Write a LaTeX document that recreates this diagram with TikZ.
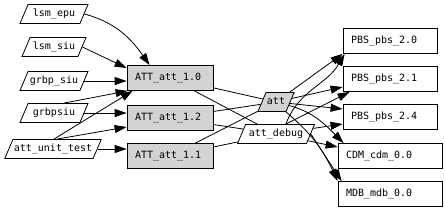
\documentclass[tikz,border=0pt]{standalone}
\usepackage{fontspec}
\setmonofont{DejaVu Sans Mono}
\usetikzlibrary{arrows.meta, shapes.geometric}
\definecolor{attgray}{HTML}{D3D3D3}

\begin{document}
\begin{tikzpicture}[
  x=1pt, y=-1pt,
  every node/.style={font=\ttfamily\fontsize{10}{11}\selectfont, line width=0.8pt, text height=7pt, text depth=2pt},
  src/.style={
    draw, fill=white, trapezium, trapezium left angle=67, trapezium right angle=113,
    trapezium stretches body=true, inner xsep=1pt, inner ysep=5pt
  },
  hub/.style={src, fill=attgray},
  attbox/.style={draw, fill=attgray, inner xsep=8pt, inner ysep=0pt, text width=70pt, align=left, minimum height=25pt},
  pkg/.style={draw, fill=white, inner xsep=8pt, inner ysep=0pt, text width=78pt, align=left, minimum height=25pt},
  link/.style={line width=0.8pt},
  arrow/.style={link, -{Triangle[length=12pt, width=8pt]}}
]
  \useasboundingbox (0,0) rectangle (445,212);

  \node[src, minimum width=68pt] (lsmepu) at (54,14) {lsm\_epu};
  \node[src, minimum width=64pt] (lsmsiu) at (54,47) {lsm\_siu};
  \node[src, minimum width=68pt] (grbpsiuA) at (54,81) {grbp\_siu};
  \node[src, minimum width=68pt] (grbpsiuB) at (54,113) {grbpsiu};
  \node[src, minimum width=93pt] (unittest) at (53,149) {att\_unit\_test};

  \node[attbox] (att10) at (170,78) {ATT\_att\_1.0};
  \node[attbox] (att12) at (170,118) {ATT\_att\_1.2};
  \node[attbox] (att11) at (170,156) {ATT\_att\_1.1};

  \node[hub, minimum width=31pt] (att) at (276,102) {att};
  \node[src, minimum width=77pt] (attdebug) at (276,134) {att\_debug};

  \node[pkg] (pbs20) at (390,41) {PBS\_pbs\_2.0};
  \node[pkg] (pbs21) at (390,79) {PBS\_pbs\_2.1};
  \node[pkg] (pbs24) at (390,117) {PBS\_pbs\_2.4};
  \node[pkg, text width=88pt] (cdm) at (390,156) {CDM\_cdm\_0.0};
  \node[pkg, text width=88pt] (mdb) at (390,194) {MDB\_mdb\_0.0};

  \draw[arrow] (lsmepu.east) to[out=-15, in=125] ([xshift=23pt]att10.north west);
  \draw[arrow] (lsmsiu.east) -- ([yshift=10pt]att10.west);
  \draw[arrow] (grbpsiuA.east) -- (grbpsiuA.east -| att10.west);
  \draw[arrow] (grbpsiuB.north east) -- ([xshift=1pt]att10.south west);
  \draw[arrow] ([xshift=-9pt]unittest.north east) -- ([xshift=6pt]att10.south west);
  \draw[arrow] (grbpsiuB.east) -- (grbpsiuB.east -| att12.west);
  \draw[arrow] ([xshift=-6pt]unittest.north east) -- ([yshift=-9pt]att12.west);
  \draw[arrow] (unittest.east) -- (unittest.east -| att11.west);

  \draw[link] (att10) -- (att);
  \draw[link] (att10) -- (attdebug);
  \draw[link] (att12) -- (att);
  \draw[link] (att12) -- (attdebug);
  \draw[link] (att11) -- (att);
  \draw[link] (att11) -- (attdebug);

  \draw[arrow] (att) -- (pbs20.south west);
  \draw[arrow] (att) -- ([yshift=-8pt]pbs21.west);
  \draw[arrow] (att) -- ([yshift=8pt]pbs24.west);
  \draw[arrow] (att) to[out=-15, in=135] ([xshift=6pt]cdm.north west);
  \draw[arrow] (att.south east) to[out=-40, in=115] (mdb.north west);
  \draw[arrow] (attdebug.north east) to[out=70, in=-120] ([xshift=2pt]pbs20.south west);
  \draw[arrow] (attdebug.north east) -- ([xshift=7pt]pbs21.south west);
  \draw[arrow] (attdebug) -- ([yshift=-7pt]pbs24.west);
  \draw[arrow] (attdebug) -- ([yshift=9pt]cdm.west);
  \draw[arrow] (attdebug.east) -- ([xshift=4pt]mdb.north west);
\end{tikzpicture}
\end{document}
